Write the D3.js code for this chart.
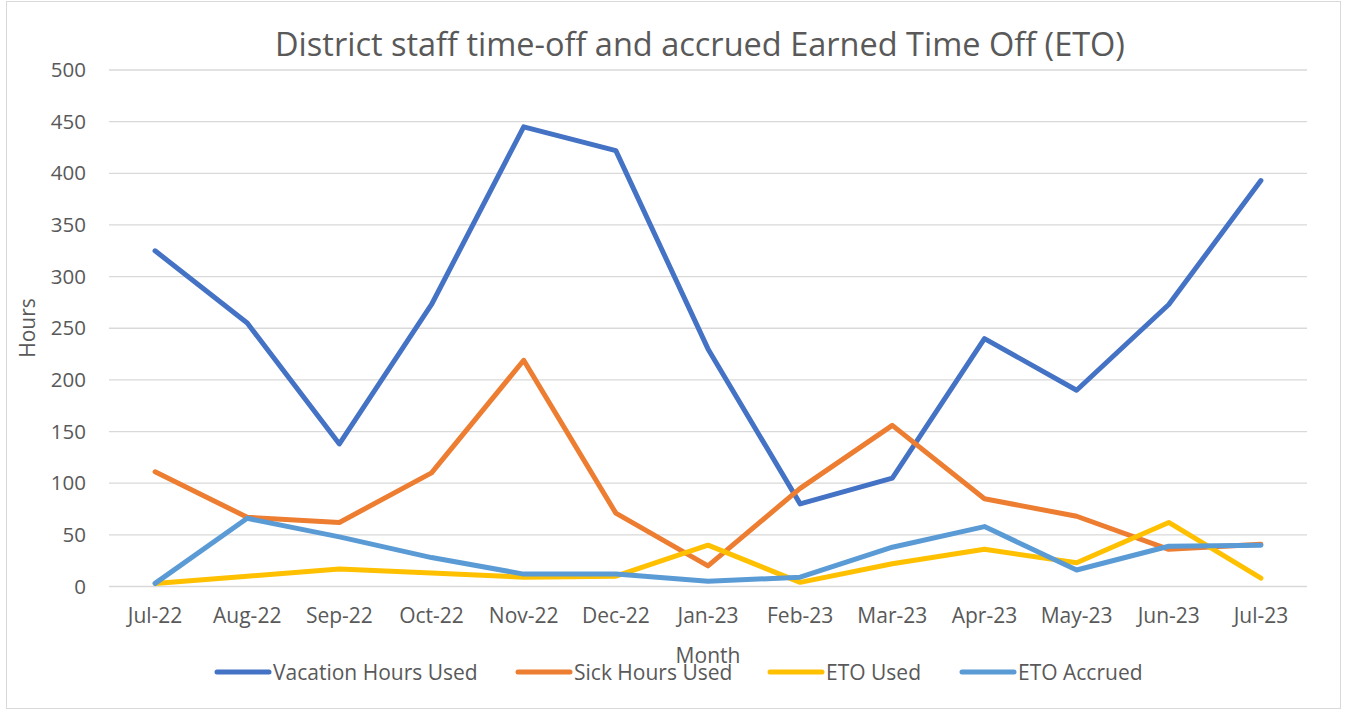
<!DOCTYPE html>
<html>
<head>
<meta charset="utf-8">
<script src="https://cdn.jsdelivr.net/npm/d3@7"></script>
<style>
  body { margin: 0; background: #fff; }
  svg text { font-family: "Open Sans", Lato, sans-serif; fill: #595959; }
</style>
</head>
<body>
<div id="chart"></div>
<script>
// Data
const months = ["Jul-22", "Aug-22", "Sep-22", "Oct-22", "Nov-22", "Dec-22", "Jan-23",
                "Feb-23", "Mar-23", "Apr-23", "May-23", "Jun-23", "Jul-23"];
const vacationHours = [325, 255, 138, 273, 445, 422, 230, 80, 105, 240, 190, 273, 393];
const sickHours     = [111, 67, 62, 110, 219, 71, 20, 95, 156, 85, 68, 36, 41];
const etoUsed       = [3, 10, 17, 13, 9, 10, 40, 4, 22, 36, 23, 62, 8];
const etoAccrued    = [3, 66, 48, 28, 12, 12, 5, 9, 38, 58, 16, 39, 40];
const yTicks = [0, 50, 100, 150, 200, 250, 300, 350, 400, 450, 500];

const series = [
  { name: "Vacation Hours Used", values: vacationHours, color: "#4472C4" },
  { name: "Sick Hours Used",     values: sickHours,     color: "#ED7D31" },
  { name: "ETO Used",            values: etoUsed,       color: "#FFC000" },
  { name: "ETO Accrued",         values: etoAccrued,    color: "#5B9BD5" }
];

const width = 1348, height = 711;
const margin = { left: 109, right: 41, top: 70, bottom: 124.5 };

const svg = d3.select("#chart").append("svg")
    .attr("width", width)
    .attr("height", height);

// chart border
svg.append("rect")
    .attr("x", 6.5).attr("y", 1.5)
    .attr("width", 1334).attr("height", 707)
    .attr("fill", "none")
    .attr("stroke", "#d9d9d9");

const x = d3.scaleBand()
    .domain(months)
    .range([margin.left, width - margin.right]);

const y = d3.scaleLinear()
    .domain([0, 500])
    .range([height - margin.bottom, margin.top]);

// gridlines
svg.append("g")
    .selectAll("line")
    .data(yTicks)
    .enter().append("line")
    .attr("x1", margin.left)
    .attr("x2", width - margin.right)
    .attr("y1", d => y(d))
    .attr("y2", d => y(d))
    .attr("stroke", "#d9d9d9")
    .attr("stroke-width", 1.3);

// y axis labels
const yAxis = svg.append("g")
    .attr("transform", `translate(${margin.left},0)`)
    .call(d3.axisLeft(y).tickValues(yTicks).tickSize(0).tickPadding(23));
yAxis.select(".domain").remove();
yAxis.selectAll("text")
    .style("font-size", "20.5px")
    .attr("fill", "#595959");

// x axis labels
const xAxis = svg.append("g")
    .attr("transform", `translate(0,${height - margin.bottom})`)
    .call(d3.axisBottom(x).tickSize(0).tickPadding(22));
xAxis.select(".domain").remove();
xAxis.selectAll("text")
    .style("font-size", "21px")
    .attr("fill", "#595959");

// lines
const line = d3.line()
    .x((d, i) => x(months[i]) + x.bandwidth() / 2)
    .y(d => y(d));

svg.append("g")
    .selectAll("path")
    .data(series)
    .enter().append("path")
    .attr("d", d => line(d.values))
    .attr("fill", "none")
    .attr("stroke", d => d.color)
    .attr("stroke-width", 5)
    .attr("stroke-linejoin", "round")
    .attr("stroke-linecap", "round");

// title
svg.append("text")
    .attr("x", 700)
    .attr("y", 56)
    .attr("text-anchor", "middle")
    .style("font-size", "32.5px")
    .text("District staff time-off and accrued Earned Time Off (ETO)");

// axis titles
svg.append("text")
    .attr("transform", "translate(35,328) rotate(-90)")
    .attr("text-anchor", "middle")
    .style("font-size", "21px")
    .text("Hours");

svg.append("text")
    .attr("x", 708)
    .attr("y", 663)
    .attr("text-anchor", "middle")
    .style("font-size", "21px")
    .text("Month");

// legend
const legendX = [215, 516, 768, 960];
const legend = svg.append("g")
    .selectAll("g")
    .data(series)
    .enter().append("g")
    .attr("transform", (d, i) => `translate(${legendX[i]},672)`);

legend.append("line")
    .attr("x1", 2).attr("x2", 54)
    .attr("y1", 0).attr("y2", 0)
    .attr("stroke", d => d.color)
    .attr("stroke-width", 5)
    .attr("stroke-linecap", "round");

legend.append("text")
    .attr("x", 58)
    .attr("y", 8)
    .style("font-size", "21px")
    .text(d => d.name);
</script>
</body>
</html>
